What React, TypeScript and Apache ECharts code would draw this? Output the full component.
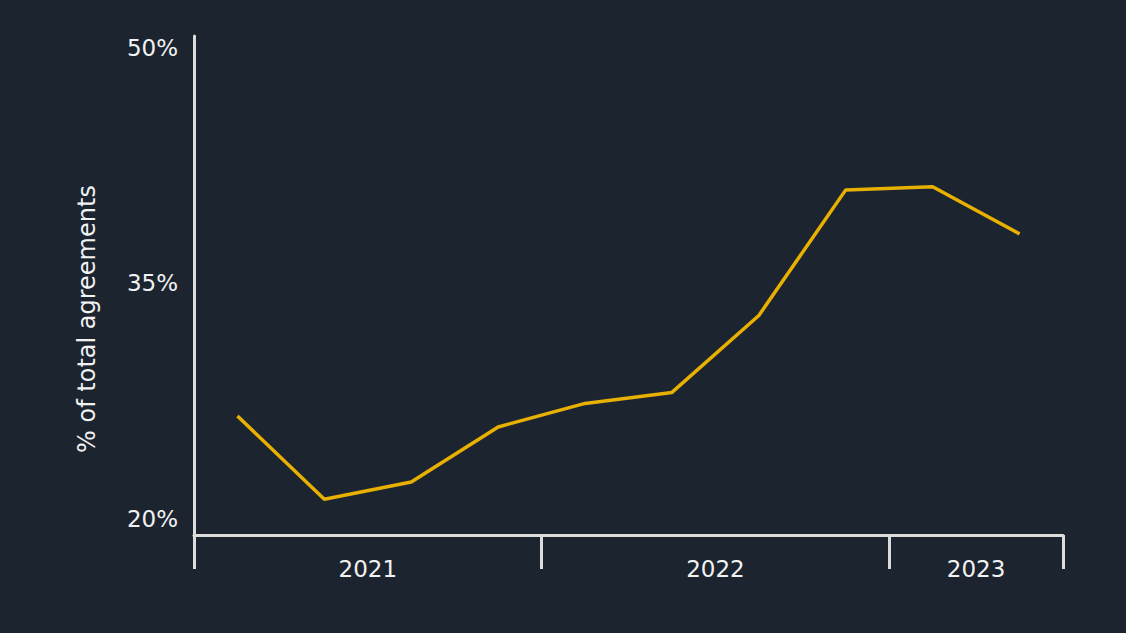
import React, { useRef, useEffect } from 'react';
import * as echarts from 'echarts';

// quarterly share of agreements
const quarters = [
  'Q1 2021', 'Q2 2021', 'Q3 2021', 'Q4 2021',
  'Q1 2022', 'Q2 2022', 'Q3 2022', 'Q4 2022',
  'Q1 2023', 'Q2 2023',
];
const shareValues = [25.8, 20.5, 21.6, 25.1, 26.6, 27.3, 32.2, 40.2, 40.4, 37.4];

const years = ['2021', '2022', '2023'];
const yearCenters = [2, 6, 9];       // mid-points of each year's quarter band
const yearBoundaries = [0, 4, 8, 10];
const yTicks = [20, 35, 50];

const BG = '#1c2430';
const AXIS = '#dcdcdc';
const TEXT = '#f2f2f2';
const FONT = '"DejaVu Sans", sans-serif';

const App: React.FC = () => {
  const chartRef = useRef<HTMLDivElement>(null);

  useEffect(() => {
    document.body.style.margin = '0';
    document.body.style.background = BG;
    if (!chartRef.current) return;
    const chart = echarts.init(chartRef.current, null, { renderer: 'svg' });

    chart.setOption({
      animation: false,
      backgroundColor: BG,
      grid: { left: 194, right: 63, top: 36, bottom: 98 },
      xAxis: [
        {
          type: 'category',
          data: quarters,
          boundaryGap: true,
          axisLine: { show: true, lineStyle: { color: AXIS, width: 3 } },
          axisTick: { show: false },
          axisLabel: { show: false },
          splitLine: { show: false },
        },
        {
          type: 'value',
          position: 'bottom',
          min: 0,
          max: quarters.length,
          axisLine: { show: false },
          axisTick: {
            show: true,
            customValues: yearBoundaries,
            length: 34,
            lineStyle: { color: AXIS, width: 3 },
          },
          axisLabel: {
            customValues: yearCenters,
            formatter: (v: number) => years[yearCenters.indexOf(v)] ?? '',
            color: TEXT,
            fontFamily: FONT,
            fontSize: 23,
            margin: 22,
          },
          splitLine: { show: false },
        },
      ],
      yAxis: {
        type: 'value',
        min: 18.22,
        max: 50,
        axisLine: { show: true, lineStyle: { color: AXIS, width: 3 } },
        axisTick: { show: false },
        splitLine: { show: false },
        axisLabel: {
          customValues: yTicks,
          formatter: '{value}%',
          color: TEXT,
          fontFamily: FONT,
          fontSize: 23,
          margin: 16,
          verticalAlign: 'top',
        },
      },
      graphic: [
        {
          type: 'text',
          x: 87,
          y: 319,
          rotation: Math.PI / 2,
          style: {
            text: '% of total agreements',
            fill: TEXT,
            font: `24px ${FONT}`,
            align: 'center',
            verticalAlign: 'middle',
          },
        },
      ],
      series: [
        {
          type: 'line',
          xAxisIndex: 0,
          data: shareValues,
          showSymbol: false,
          lineStyle: { color: '#e8b000', width: 3.5 },
        },
      ],
    });

    return () => chart.dispose();
  }, []);

  return (
    <div
      ref={chartRef}
      style={{ position: 'absolute', left: 0, top: 0, width: 1126, height: 633 }}
    />
  );
};

export default App;
